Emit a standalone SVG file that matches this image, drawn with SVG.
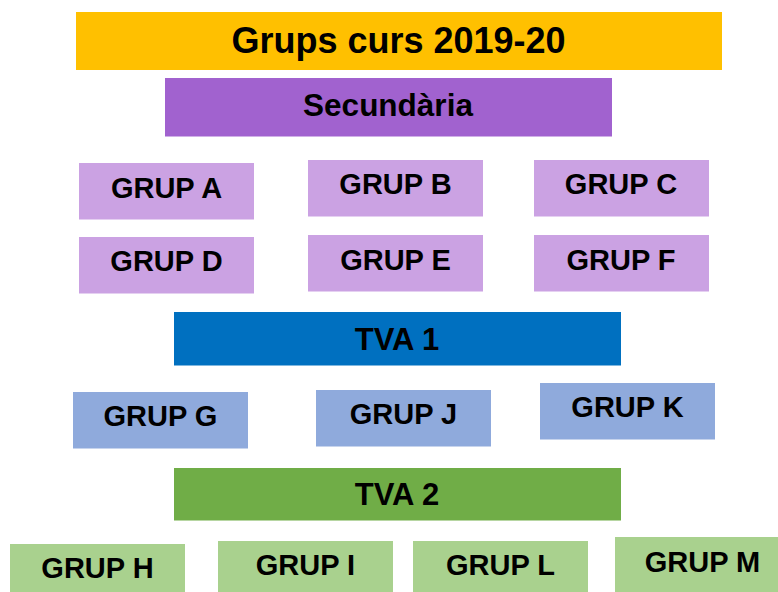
<svg xmlns="http://www.w3.org/2000/svg" width="778" height="592" viewBox="0 0 778 592">
<style>
text{font-family:"Liberation Sans",Arial,sans-serif;font-weight:bold;fill:#000;text-anchor:middle}
.g{font-size:29px}
.sec{fill:#CBA2E3}
.t1{fill:#8FAADC}
.t2{fill:#A9D18E}
</style>
<rect width="778" height="592" fill="#fff"/>
<g id="title"><rect x="76" y="12" width="646" height="58" fill="#FFC000"/><text x="398.5" y="53" font-size="36">Grups curs 2019-20</text></g>
<g id="secundaria"><rect x="165" y="78" width="447" height="58.5" fill="#A162CF"/><text x="388" y="115.5" font-size="31.5">Secundària</text></g>
<g id="grupA"><rect class="sec" x="79" y="163" width="175" height="56.5"/><text class="g" x="166.5" y="198.3">GRUP A</text></g>
<g id="grupB"><rect class="sec" x="308" y="160" width="175" height="56.5"/><text class="g" x="395.5" y="194.3">GRUP B</text></g>
<g id="grupC"><rect class="sec" x="534" y="160" width="175" height="56.5"/><text class="g" x="621" y="194.3">GRUP C</text></g>
<g id="grupD"><rect class="sec" x="79" y="237" width="175" height="56.5"/><text class="g" x="166.5" y="270.7">GRUP D</text></g>
<g id="grupE"><rect class="sec" x="308" y="235" width="175" height="56.5"/><text class="g" x="395.5" y="269.5">GRUP E</text></g>
<g id="grupF"><rect class="sec" x="534" y="235" width="175" height="56.5"/><text class="g" x="621" y="269.5">GRUP F</text></g>
<g id="tva1"><rect x="174" y="312" width="447" height="53.5" fill="#0070C0"/><text x="397" y="349.5" font-size="31">TVA 1</text></g>
<g id="grupG"><rect class="t1" x="73" y="392" width="175" height="56.5"/><text class="g" x="160.5" y="426">GRUP G</text></g>
<g id="grupJ"><rect class="t1" x="316" y="390" width="175" height="56.5"/><text class="g" x="403.5" y="424">GRUP J</text></g>
<g id="grupK"><rect class="t1" x="540" y="383" width="175" height="56.5"/><text class="g" x="627.5" y="416.7">GRUP K</text></g>
<g id="tva2"><rect x="174" y="468" width="447" height="52.5" fill="#70AD47"/><text x="397" y="504.5" font-size="31">TVA 2</text></g>
<g id="grupH"><rect class="t2" x="10" y="544" width="175" height="57"/><text class="g" x="97.5" y="578.3">GRUP H</text></g>
<g id="grupI"><rect class="t2" x="218" y="541" width="175" height="57"/><text class="g" x="305.5" y="575">GRUP I</text></g>
<g id="grupL"><rect class="t2" x="413" y="541" width="175" height="57"/><text class="g" x="500.5" y="575">GRUP L</text></g>
<g id="grupM"><rect class="t2" x="615" y="537" width="175" height="57"/><text class="g" x="702.5" y="571.7">GRUP M</text></g>
<g id="connectors"/>
</svg>
